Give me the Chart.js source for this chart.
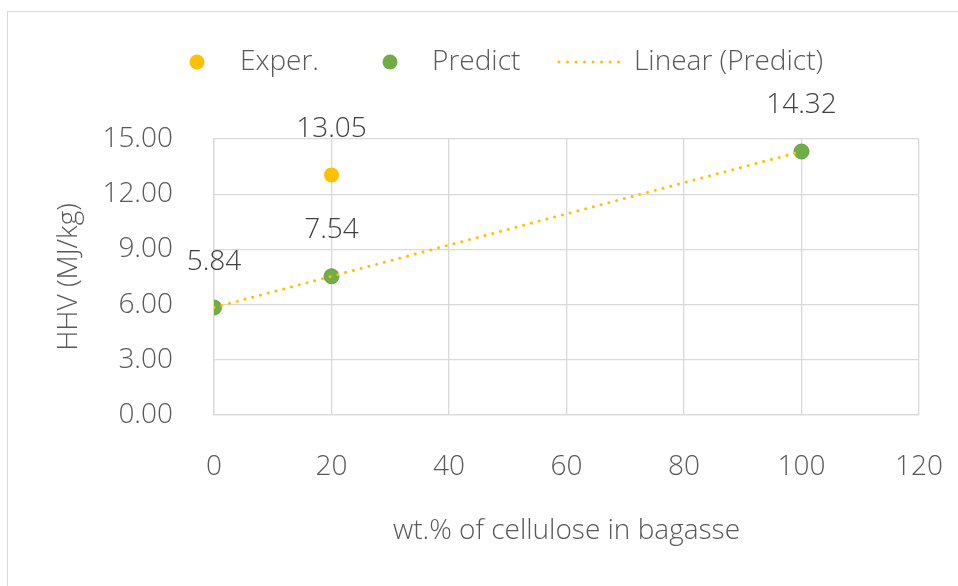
<!DOCTYPE html>
<html>
<head>
<meta charset="utf-8">
<script src="https://cdn.jsdelivr.net/npm/chart.js@4/dist/chart.umd.min.js"></script>
<style>
  html, body { margin: 0; padding: 0; background: #fff; overflow: hidden; }
  #wrap { position: relative; width: 958px; height: 586px; }
  #frame { position: absolute; left: 7px; top: 11px; width: 1400px; height: 1400px;
           border-left: 1.5px solid #d9d9d9; border-top: 1.5px solid #d9d9d9; pointer-events: none; }
  canvas { display: block; }
</style>
</head>
<body>
<div id="wrap">
  <canvas id="c" width="958" height="586"></canvas>
  <div id="frame"></div>
</div>
<script>
// Predicted HHV at each cellulose content
const cellulosePct = [0, 20, 100];
const predictHHV = [5.84, 7.54, 14.32];
// Experimental measurement
const experPct = [20];
const experHHV = [13.05];
// Axis ranges and tick steps
const xRange = [0, 120];
const xStep = 20;
const yRange = [0, 15];
const yStep = 3;

const FONT = '"Open Sans", Lato, sans-serif';
const FONT_W = '300';
const FONT_S = 28;
const TEXT = '#595959';
const LABEL = '#404040';
const GRID = '#d9d9d9';
const GOLD = '#FFC000';
const GREEN = '#70AD47';

// Least-squares trend through the predicted points, drawn across their x span
function linearFit(xs, ys) {
  const n = xs.length;
  const mx = xs.reduce((a, b) => a + b, 0) / n;
  const my = ys.reduce((a, b) => a + b, 0) / n;
  let sxy = 0, sxx = 0;
  for (let i = 0; i < n; i++) { sxy += (xs[i] - mx) * (ys[i] - my); sxx += (xs[i] - mx) ** 2; }
  const slope = sxy / sxx;
  return x => my + slope * (x - mx);
}
const fit = linearFit(cellulosePct, predictHHV);
const xMin = Math.min(...cellulosePct), xMax = Math.max(...cellulosePct);
const trend = [{ x: xMin, y: fit(xMin) }, { x: xMax, y: fit(xMax) }];

const toPoints = (xs, ys) => xs.map((x, i) => ({ x, y: ys[i] }));

// Value labels above each marker
const valueLabels = {
  id: 'valueLabels',
  afterDatasetsDraw(chart) {
    const ctx = chart.ctx;
    ctx.save();
    ctx.font = `${FONT_W} ${FONT_S}px ${FONT}`;
    ctx.fillStyle = LABEL;
    ctx.textAlign = 'center';
    ctx.textBaseline = 'middle';
    chart.data.datasets.forEach((ds, i) => {
      if (!ds.showValues) return;
      chart.getDatasetMeta(i).data.forEach((el, j) => {
        ctx.fillText(ds.data[j].y.toFixed(2), el.x, el.y - 46);
      });
    });
    ctx.restore();
  }
};

// Legend row along the top
const topLegend = {
  id: 'topLegend',
  afterDraw(chart) {
    const ctx = chart.ctx;
    const y = 62;
    ctx.save();
    ctx.font = `${FONT_W} ${FONT_S}px ${FONT}`;
    ctx.textBaseline = 'middle';
    ctx.textAlign = 'left';
    const dot = (x, color) => {
      ctx.beginPath();
      ctx.arc(x, y, 7.5, 0, Math.PI * 2);
      ctx.fillStyle = color;
      ctx.fill();
    };
    dot(197, GOLD);
    dot(390, GREEN);
    ctx.fillStyle = TEXT;
    ctx.fillText(chart.data.datasets[1].label, 240, y);
    ctx.fillText(chart.data.datasets[2].label, 432, y);
    ctx.beginPath();
    ctx.strokeStyle = GOLD;
    ctx.lineWidth = 3;
    ctx.lineCap = 'round';
    ctx.setLineDash([0.01, 8.5]);
    ctx.moveTo(559, y);
    ctx.lineTo(627, y);
    ctx.stroke();
    ctx.setLineDash([]);
    ctx.fillText(chart.data.datasets[0].label, 634, y);
    ctx.restore();
  }
};

new Chart(document.getElementById('c'), {
  type: 'scatter',
  data: {
    datasets: [
      {
        label: 'Linear (Predict)',
        data: trend,
        showLine: true,
        borderColor: GOLD,
        borderWidth: 3,
        borderDash: [0.01, 8],
        borderCapStyle: 'round',
        pointRadius: 0,
        pointHoverRadius: 0,
        order: 0
      },
      {
        label: 'Exper.',
        data: toPoints(experPct, experHHV),
        backgroundColor: GOLD,
        borderColor: GOLD,
        borderWidth: 0,
        pointRadius: 7.5,
        showValues: true,
        order: 2
      },
      {
        label: 'Predict',
        data: toPoints(cellulosePct, predictHHV),
        backgroundColor: GREEN,
        borderColor: '#66a040',
        borderWidth: 1,
        pointRadius: 7.5,
        showValues: true,
        order: 1
      }
    ]
  },
  options: {
    responsive: false,
    animation: false,
    events: [],
    layout: { padding: { left: 0, top: 139, right: 39, bottom: 0 } },
    font: { family: FONT },
    plugins: { legend: { display: false }, tooltip: { enabled: false } },
    scales: {
      x: {
        type: 'linear',
        min: xRange[0], max: xRange[1],
        afterFit(s) { s.height = 171; s.paddingLeft = 0; s.paddingRight = 0; },
        grid: { color: GRID, lineWidth: 1.3, drawTicks: false },
        border: { color: GRID, width: 1.3 },
        ticks: {
          stepSize: xStep,
          padding: 35,
          color: TEXT,
          font: { family: FONT, size: FONT_S, weight: FONT_W }
        },
        title: {
          display: true,
          text: 'wt.% of cellulose in bagasse',
          color: TEXT,
          font: { family: FONT, size: FONT_S, weight: FONT_W },
          padding: { top: 0, bottom: 38 }
        }
      },
      y: {
        type: 'linear',
        min: yRange[0], max: yRange[1],
        afterFit(s) { s.width = 214; s.paddingTop = 0; s.paddingBottom = 0; },
        grid: { color: GRID, lineWidth: 1.3, drawTicks: false },
        border: { color: GRID, width: 1.3 },
        ticks: {
          stepSize: yStep,
          padding: 41,
          color: TEXT,
          font: { family: FONT, size: FONT_S, weight: FONT_W },
          callback: v => v.toFixed(2)
        },
        title: {
          display: true,
          text: 'HHV (MJ/kg)',
          color: TEXT,
          font: { family: FONT, size: FONT_S, weight: FONT_W },
          padding: { top: 52, bottom: 0 }
        }
      }
    }
  },
  plugins: [valueLabels, topLegend]
});
</script>
</body>
</html>
